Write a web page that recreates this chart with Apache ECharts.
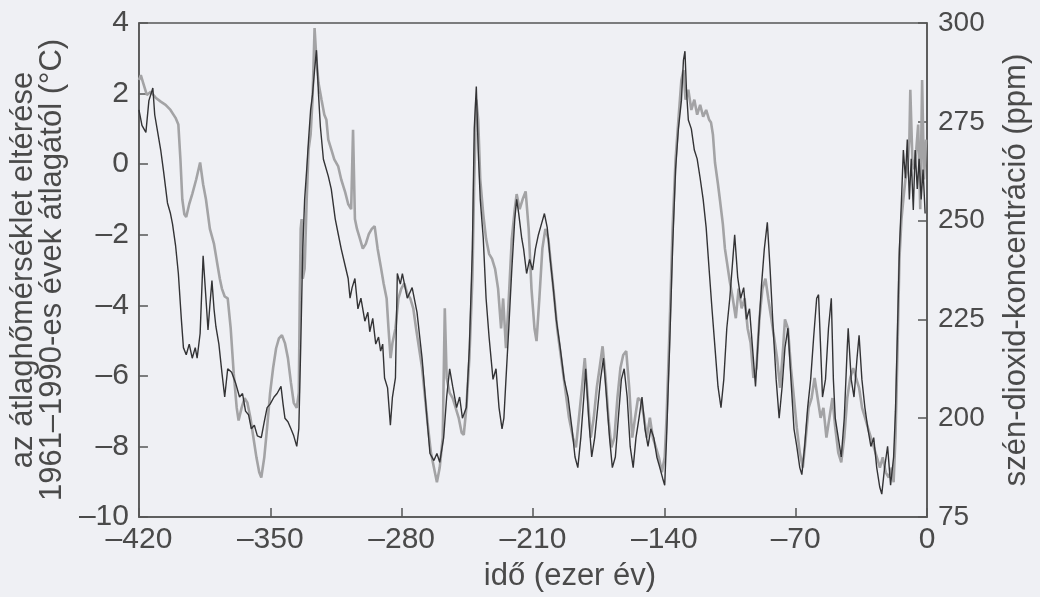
<!DOCTYPE html>
<html>
<head>
<meta charset="utf-8">
<script src="https://cdn.jsdelivr.net/npm/echarts@6/dist/echarts.min.js"></script>
<style>
html,body{margin:0;padding:0;background:#eff0f4;}
#chart{width:1040px;height:597px;}
</style>
</head>
<body>
<div id="chart"></div>
<script>
// Temperature anomaly (°C), dark line – time in thousand years
const tempTime = [
-420,-418.4,-416.3,-414.7,-412.6,-411.6,-410,-408.4,-406.9,-404.8,-403.2,-402.1,-400.5,-399,-397.4,-396.3,-394.8,-393.2,-391.6,-390,-389,-387.4,-385.8,-384.3,-383.2,-382.2,-381.1,-380,-379,-377.4,-375.8,-374.3,-372.7,-370.6,-368.5,-366.4,-364.8,-363.2,-361.6,-360.1,-358.5,-356.9,-354.8,-353.2,-351.7,-350.1,-348,-346.4,-344.3,-343.2,-342.2,-340.6,-339,-337.5,-335.9,-334.8,
-333.8,-332.7,-331.7,-330.6,-329.6,-328.5,-327.5,-326.4,-325.4,-324.3,-323.3,-321.7,-319.1,-317.5,-315.4,-313.8,-312.2,-310.1,-308.5,-307.5,-306.4,-304.9,-303.3,-301.7,-299.6,-298,-297,-295.4,-293.8,-292.3,-291.2,-290.1,-289.1,-287.5,-286,-284.9,-283.3,
-282.3,-280.7,-279.6,-277,-274.4,-271.8,-269.1,-266.5,-264.9,-262.8,-261.2,-259.7,-257.6,-256,-254.4,-252.8,-250.7,-249.1,-247.6,-245.5,-243.9,-242.3,-241.3,-240.2,-239.2,-238.1,-236.5,-235,-233.4,-231.3,-229.7,-228.1,-226.5,-225.5,-224.4,-222.9,-221.3,-219.7,-218.7,-217.6,-216,-215,-213.4,-211.8,-210.2,-208.7,-207.1,-205.5,-203.9,-202.4,-200.8,-199.2,-197.6,-195.5,-193.4,-191.3,-189.2,-187.6,-186.1,-184.5,-182.9,-181.9,-180.3,-178.7,-177.1,-175.5,-174,-172.4,-170.8,-169.2,-167.7,-166.1,-164.5,-162.9,-161.4,-159.8,-158.2,-156.6,-155.1,-153.5,-151.9,-150.3,-148.7,-147.2,-145.6,-144,-142.4,-140.9,-139.8,-138.8,-137.2,-135.6,-134,-132.5,-130.9,-129.8,-129,-128.2,-127.2,-125.6,-124,-122.5,-120.9,-119.3,-117.7,-116.1,-114.6,-113,-111.4,-109.8,-108.3,-106.7,-105.1,-103.5,-102.5,-100.9,-99.3,-97.7,-96.2,-94.6,-93,-91.4,-89.9,-88.3,-86.7,-85.1,-83.6,-82,-80.4,-78.8,-77.2,-75.7,-74.1,-72.5,-70.9,-69.4,-67.8,-66.7,-65.2,-63.6,-62,-60.4,-58.8,-57.8,-56.7,-55.7,-54.1,-52.5,-51,-49.9,-48.9,-47.3,-45.7,-44.1,-42.5,-42,-40.4,-38.9,-37.3,-36.2,-34.7,-33.1,-31.5,-29.9,-28.4,-26.8,-25.2,-24.1,-22.6,-21,-19.4,-17.8,-16.8,-15.7,-14.7,-13.6,-12.6,-11.5,-10.5,-9.4,-8.4,-7.3,-6.3,-5.2,-4.2,-3.1,-2.1,-1.0
];
const tempVal = [
1.54,1.1,0.9,1.8,2.16,1.4,0.9,0.4,-0.2,-1.1,-1.4,-1.7,-2.3,-3.1,-4.4,-5.2,-5.4,-5.1,-5.5,-5.2,-5.5,-4.8,-2.6,-3.8,-4.7,-4.0,-3.3,-4.1,-4.6,-5.1,-5.9,-6.6,-5.8,-5.9,-6.2,-6.6,-6.5,-7.0,-7.1,-7.5,-7.4,-7.7,-7.75,-7.3,-6.9,-6.8,-6.6,-6.5,-6.3,-6.8,-7.2,-7.3,-7.5,-7.7,-8.0,-7.5,
-5.2,-2.4,-1.0,-0.15,0.7,1.54,1.97,2.67,3.23,1.97,1.06,0.14,-0.34,-0.71,-1.55,-1.98,-2.4,-2.88,-3.24,-3.8,-3.5,-3.24,-4.1,-3.8,-4.45,-4.2,-4.75,-4.37,-5.1,-4.9,-5.3,-5.1,-6.06,-6.34,-7.4,-6.6,-6.06,
-3.1,-3.4,-3.1,-3.8,-3.5,-4.2,-5.5,-7.2,-8.2,-8.4,-8.2,-8.45,-7.75,-6.6,-5.8,-6.3,-6.9,-6.6,-7.2,-6.9,-5.2,-2.4,1.0,2.2,0.4,-1.0,-2.1,-3.8,-4.9,-6.1,-5.8,-6.9,-7.5,-7.2,-6.1,-4.65,-3.0,-1.55,-1.0,-1.4,-2.1,-2.4,-3.1,-2.7,-3.0,-2.4,-2.0,-1.7,-1.4,-1.8,-2.7,-3.5,-4.4,-5.2,-6.1,-6.6,-7.5,-8.3,-8.6,-7.75,-6.6,-5.8,-7.2,-8.3,-7.75,-6.9,-6.1,-5.5,-6.6,-7.75,-8.6,-8.3,-7.2,-6.1,-5.8,-6.6,-8.0,-8.6,-7.75,-7.2,-6.6,-7.5,-8.0,-7.5,-7.75,-8.3,-8.6,-8.9,-9.1,-7.75,-5.2,-2.4,-0.15,1.0,1.8,2.95,3.2,2.1,1.25,1.0,0.4,0.15,-0.4,-1.0,-1.8,-3.0,-4.1,-5.2,-6.3,-6.9,-6.1,-4.65,-3.8,-2.7,-2.0,-3.2,-3.8,-3.5,-4.4,-4.1,-5.2,-6.3,-4.9,-3.5,-2.4,-1.65,-3.0,-4.65,-6.1,-7.2,-6.3,-5.2,-4.65,-6.1,-7.5,-8.0,-8.6,-8.8,-8.0,-6.9,-6.1,-4.9,-3.8,-3.7,-5.2,-6.6,-6.1,-4.65,-3.8,-6.1,-7.2,-7.75,-8.3,-7.2,-5.2,-4.65,-6.1,-6.6,-5.5,-4.85,-6.1,-6.9,-7.5,-8.0,-7.75,-8.6,-9.15,-9.35,-8.6,-8.0,-9.1,-8.3,-7.0,-4.65,-2.4,-1.0,0.4,-0.4,0.7,-1.0,0.15,-1.3,0.4,-0.7,0.15,-1.0,-0.15,-1.4
];
// CO2 concentration (ppm), grey line
const co2Time = [
-420,-419,-417.4,-415.8,-413.7,-411.1,-408.4,-405.8,-403.2,-400.5,-399,-397.9,-396.9,-395.8,-394.8,-393.2,-391.6,-389.5,-387.4,-385.8,-384.3,-382.2,-380,-378.5,-376.9,-375.8,-374.3,-372.7,-371.1,-369.5,-367.9,-366.9,-365.3,-363.7,-362.2,-360.6,-359,-357.4,-355.9,-354.8,-353.2,-351.7,-350.1,-348.5,-346.9,-345.4,-343.8,-342.2,-340.6,-339,-337.5,-335.9,-334.8,-334.3,-333.8,-333.3,-332.7,-331.7,-330.6,-329.6,-328.5,-327.5,-326.4,-325.4,-324.3,-322.7,-321.2,-320.1,-319.1,-317.5,-315.9,-313.8,-312.2,-310.1,-308.5,-306.9,-305.9,-304.9,-303.8,-302.2,-300.7,-299.1,-297.5,-295.9,-294.4,-292.8,-291.2,-289.6,-288,-287,-285.9,-284.9,-283.3,-281.7,-280.2,-278.6,-277,-275.4,-273.8,-272.3,-270.7,-269.1,-267.5,-265.9,-264.4,-262.8,-261.2,-259.7,-258.1,-257,-256,-254.4,-252.8,-251.2,-249.6,-248,-246.9,-245.5,-243.9,-242.3,-241.3,-240.2,-239.2,-238.1,-236.5,-235,-233.4,-231.8,-230.2,-228.6,-227,-225.9,-224.4,-222.9,-221.3,-219.7,-218.7,-217.1,-215.5,-213.9,-212.3,-210.8,-209.2,-208.1,-206.6,-205,-203.4,-201.8,-200.2,-198.6,-197.1,-195,-192.9,-190.8,-188.7,-187.1,-185.5,-183.9,-182.4,-180.8,-179.2,-177.6,-176,-174.5,-172.9,-171.3,-169.8,-168.2,-166.6,-165,-163.4,-161.9,-160.3,-158.7,-157.1,-155.6,-154,-152.4,-150.8,-149.3,-147.7,-146.1,-144.5,-142.9,-141.3,-139.8,-138.8,-137.2,-135.6,-134,-132.5,-130.9,-129.8,-128.7,-127.2,-125.6,-124,-122.5,-120.9,-119.3,-117.7,-116.1,-115.1,-114.1,-113,-111.4,-110.4,-108.8,-107.7,-106.1,-105.1,-103.5,-101.9,-100.4,-98.8,-97.2,-95.6,-94,-92.5,-90.9,-89.3,-87.7,-86.1,-84.6,-83,-81.4,-79.9,-78.3,-76.7,-75.7,-74.1,-72.5,-70.9,-69.4,-67.8,-66.2,-64.6,-63.1,-61.5,-59.9,-58.3,-56.7,-55.2,-53.6,-52,-50.4,-48.9,-47.3,-45.7,-44.1,-42.5,-40.9,-39.3,-37.8,-36.2,-34.6,-33,-31.5,-29.9,-28.3,-26.7,-25.1,-23.6,-22,-20.4,-18.8,-17.8,-16.8,-15.7,-14.7,-13.6,-12.6,-11.5,-10.5,-9.4,-8.9,-7.8,-6.8,-5.7,-4.7,-3.6,-2.6,-1.6,-0.5
];
const co2Val = [
285.6,286.8,284.3,281.8,282.6,281.1,280.1,279.3,278.0,276.0,274.3,265.5,255.4,251.6,250.9,254.2,256.7,260.4,264.7,259.2,255.4,247.9,244.1,239.8,235.3,232.8,230.8,230.3,222.7,211.4,202.6,199.4,202.6,205.1,203.9,200.1,195.1,190.1,186.3,185.0,190.1,197.6,206.4,212.7,217.7,220.2,221.0,219.0,215.2,209.0,203.9,202.6,206.4,230.3,247.9,250.4,235.3,237.8,255.4,268.0,271.8,280.6,298.7,290.6,284.8,280.6,276.8,275.5,270.5,268.0,265.5,263.7,260.4,257.2,254.2,252.9,273.0,250.4,247.9,245.4,242.9,244.1,246.6,247.9,248.6,242.9,238.6,234.1,230.3,222.7,215.2,219.0,222.7,230.3,232.8,234.1,231.5,230.3,227.8,222.7,217.7,212.7,205.1,197.6,191.3,187.5,183.8,187.5,195.1,227.8,210.2,206.4,205.1,202.6,200.1,196.3,195.8,202.6,215.2,235.3,260.4,280.6,275.5,260.4,251.6,245.4,241.6,240.3,237.8,232.8,222.7,230.3,217.7,230.3,245.4,252.9,256.7,252.9,255.4,257.4,247.9,232.8,222.7,219.5,230.3,242.9,247.9,245.4,237.8,230.3,222.7,215.2,207.7,200.1,195.1,192.6,200.1,207.7,215.2,205.1,195.1,200.1,207.7,212.7,218.2,210.2,200.1,192.6,195.1,205.1,212.7,216.0,217.0,207.7,195.1,200.1,205.1,204.4,200.1,195.1,200.1,195.1,192.6,190.1,186.3,190.1,200.1,222.7,247.9,265.5,275.5,285.6,288.1,280.6,283.1,278.0,280.6,276.8,279.3,276.3,278.0,275.5,274.8,271.8,264.7,259.2,255.4,249.1,242.9,237.8,234.6,230.3,225.3,232.8,227.8,230.3,222.7,219.0,210.2,212.7,225.3,232.8,235.3,230.3,225.3,220.2,215.2,207.7,217.7,225.0,222.7,212.7,205.1,197.6,191.3,187.5,195.1,202.6,205.1,210.2,205.1,200.1,202.6,195.1,200.1,205.1,197.6,191.3,188.8,195.1,205.1,210.2,212.7,210.2,207.7,202.6,200.1,197.6,195.1,192.6,190.1,187.5,190.1,186.3,185.0,187.5,183.8,195.1,217.7,240.3,250.4,255.4,260.4,263.0,270.5,283.1,265.5,263.0,268.0,274.3,252.9,285.6,260.4,270.5
];
const xTicks = {min: -420, max: 0, step: 70};
const tempTicks = {min: -10, max: 4, step: 2};
const co2Ticks = {min: 175, max: 300, step: 25};

const pair = (ts, vs) => ts.map((t, i) => [t, vs[i]]);
const dash = v => (v < 0 ? '\u2013' + Math.abs(v) : String(v));
const FONT = '"Liberation Sans", Arial, Helvetica, sans-serif';
const TXT = '#4a4a4a';
const AX = '#555555';

const chart = echarts.init(document.getElementById('chart'), null, {renderer: 'canvas'});
chart.setOption({
  animation: false,
  backgroundColor: '#eff0f4',
  textStyle: {fontFamily: FONT, color: TXT},
  grid: {left: 138, right: 103, top: 23, bottom: 77, show: true, borderColor: AX, borderWidth: 1.5, backgroundColor: 'transparent'},
  xAxis: {
    type: 'value', min: xTicks.min, max: xTicks.max, interval: xTicks.step,
    name: 'idő (ezer év)', nameLocation: 'middle', nameGap: 44,
    nameTextStyle: {fontSize: 31, color: TXT, fontFamily: FONT, padding: [0, 0, 0, 74]},
    axisLine: {show: true, onZero: false, lineStyle: {color: AX, width: 1.5}},
    axisTick: {show: true, inside: true, length: 9, lineStyle: {color: AX, width: 1.5}},
    axisLabel: {fontSize: 30, color: TXT, fontFamily: FONT, margin: 8, formatter: dash},
    splitLine: {show: false}
  },
  yAxis: [
    {
      type: 'value', position: 'left', min: tempTicks.min, max: tempTicks.max, interval: tempTicks.step,
      name: 'az átlaghőmérséklet eltérése\n1961–1990-es évek átlagától (°C)',
      nameLocation: 'middle', nameGap: 63, nameRotate: 90,
      nameTextStyle: {fontSize: 31, lineHeight: 29, color: TXT, fontFamily: FONT},
      axisLine: {show: true, onZero: false, lineStyle: {color: AX, width: 1.5}},
      axisTick: {show: true, inside: true, length: 9, lineStyle: {color: AX, width: 1.5}},
      axisLabel: {fontSize: 30, color: TXT, fontFamily: FONT, margin: 10, formatter: dash},
      splitLine: {show: false}
    },
    {
      type: 'value', position: 'right', min: co2Ticks.min, max: co2Ticks.max, interval: co2Ticks.step,
      name: 'szén-dioxid-koncentráció (ppm)',
      nameLocation: 'middle', nameGap: 74, nameRotate: 90,
      nameTextStyle: {fontSize: 31, lineHeight: 31, color: TXT, fontFamily: FONT},
      axisLine: {show: true, onZero: false, lineStyle: {color: AX, width: 1.5}},
      axisTick: {show: true, inside: true, length: 9, lineStyle: {color: AX, width: 1.5}},
      axisLabel: {fontSize: 28, color: TXT, fontFamily: FONT, margin: 11,
        formatter: v => (v === 175 ? '75' : String(v))},
      splitLine: {show: false}
    }
  ],
  series: [
    {
      name: 'CO2', type: 'line', yAxisIndex: 1, data: pair(co2Time, co2Val),
      showSymbol: false, lineStyle: {color: '#a3a3a5', width: 2.6}, z: 2
    },
    {
      name: 'T', type: 'line', yAxisIndex: 0, data: pair(tempTime, tempVal),
      showSymbol: false, lineStyle: {color: '#333335', width: 1.4}, z: 3
    }
  ]
});
</script>
</body>
</html>
